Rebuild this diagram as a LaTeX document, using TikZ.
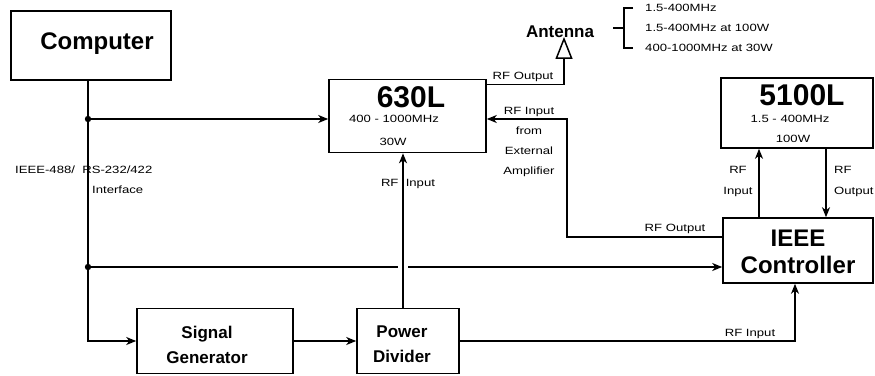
\documentclass[tikz,border=0pt]{standalone}
\usepackage{fontspec}
\setmainfont{Liberation Sans}
\newfontfamily\stretchf[FakeStretch=1.25]{Liberation Sans}
\usetikzlibrary{arrows.meta,calc}
\tikzset{
  box/.style={draw, line width=1.6pt, inner sep=0pt},
  conn/.style={line width=1.5pt},
  ar/.style={conn, -{Stealth[length=10pt,width=8pt,inset=3pt]}},
  lbl/.style={font=\stretchf\fontsize{10.5}{12}\selectfont, inner sep=0pt},
  big/.style={font=\bfseries\fontsize{30}{32}\selectfont, inner sep=0pt},
  mid/.style={font=\bfseries\fontsize{24}{27}\selectfont, inner sep=0pt, align=center},
  sml/.style={font=\bfseries\fontsize{17}{25}\selectfont, inner sep=0pt, align=center},
}
\begin{document}
\begin{tikzpicture}[x=1pt,y=-1pt]
\useasboundingbox[fill=white] (0,0) rectangle (875,375);

% boxes
\node[box, minimum width=160pt, minimum height=69pt] (comp) at (91,45.5) {};
\node[mid] (compt) at (97,44) {Computer};

\node[box, minimum width=157pt, minimum height=73pt] (l630) at (407.5,116) {};
\node[big] (t630) at (411,97) {630L};
\node[lbl] (f630) at (394,119) {400 - 1000MHz};
\node[lbl] (w630) at (393,142) {30W};

\node[box, minimum width=152pt, minimum height=70pt] (l5100) at (797,113) {};
\node[big] (t5100) at (802,95) {5100L};
\node[lbl] (f5100) at (790,119) {1.5 - 400MHz};
\node[lbl] (w5100) at (793,139) {100W};

\node[box, minimum width=150pt, minimum height=65pt] (ieee) at (798,250.5) {};
\node[mid] (ieeet) at (798,251.5) {IEEE\\Controller};

\node[box, minimum width=156pt, minimum height=65pt] (sg) at (215,341) {};
\node[sml] (sgt) at (207,344.5) {Signal\\Generator};

\node[box, minimum width=102pt, minimum height=65pt] (pd) at (408,341) {};
\node[sml] (pdt) at (402,344.5) {Power\\Divider};

% antenna
\node[font=\bfseries\fontsize{17}{20}\selectfont, inner sep=0pt] (antt) at (560,32) {Antenna};
\coordinate (antbase) at (564,58);
\draw[conn] (antbase) -- ++(-7.5,0) -- ++(7.5,-19) -- ++(7.5,19) -- cycle;

% frequency list and bracket
\node[lbl, anchor=west] (fa) at (645,8) {1.5-400MHz};
\node[lbl, anchor=west] (fb) at (645,28) {1.5-400MHz at 100W};
\node[lbl, anchor=west] (fc) at (645,48) {400-1000MHz at 30W};
\draw[conn] ([xshift=-12pt]fa.west) -- ++(-9,0) |- ([xshift=-12pt]fc.west);
\draw[conn] ([xshift=-21pt]fb.west) -- ++(-11,0);

% interface bus
\coordinate (j1) at (88,119);
\coordinate (j2) at (88,267);
\draw[ar] (comp.south -| j1) |- (sg.west);
\fill (j1) circle (3.2pt);
\fill (j2) circle (3.2pt);
\draw[ar] (j1) -- (j1 -| l630.west);
\node[lbl, anchor=west] (ifa) at (15,170) {IEEE-488/\ \ RS-232/422};
\node[lbl, anchor=west] (ifb) at (92,190) {Interface};

% RF input to 630L from power divider
\coordinate (rfv) at ([xshift=-5pt]pd.north);
\draw[ar] (rfv) -- (rfv |- l630.south);
\node[lbl] (rfin1) at (408,184) {RF\ \ Input};

% bus to IEEE controller (with gap at crossing)
\draw[conn] (j2) -- ([xshift=-5pt]j2 -| rfv);
\draw[ar] ([xshift=5pt]j2 -| rfv) -- (j2 -| ieee.west);

% signal chain
\draw[ar] (sg) -- (pd);
\draw[ar] (pd.east) -| ([xshift=-3pt]ieee.south);
\node[lbl] (rfin2) at (750,334) {RF Input};

% 630L output to antenna
\draw[conn] ([yshift=-6pt]l630.north east) -| (antbase);
\node[lbl] (rfout1) at (523,77) {RF Output};

% external amplifier path
\coordinate (ext) at (567,237);
\draw[ar] (ext -| ieee.west) -- (ext) |- ([yshift=-3pt]l630.east);
\node[lbl, align=center, font=\stretchf\fontsize{10.5}{20}\selectfont] (extl) at (529,141.5) {RF Input\\from\\External\\Amplifier};
\node[lbl] (rfout2) at (675,229) {RF Output};

% IEEE <-> 5100L
\coordinate (up5) at ([xshift=-39pt]ieee.north);
\coordinate (dn5) at ([xshift=29pt]l5100.south);
\draw[ar] (up5) -- (up5 |- l5100.south);
\draw[ar] (dn5) -- (dn5 |- ieee.north);
\node[lbl, align=center, font=\stretchf\fontsize{10.5}{21}\selectfont] (rfin3) at (738,181) {RF\\Input};
\node[lbl, align=left, anchor=west, font=\stretchf\fontsize{10.5}{21}\selectfont] (rfout3) at (834,181) {RF\\Output};
\end{tikzpicture}
\end{document}
